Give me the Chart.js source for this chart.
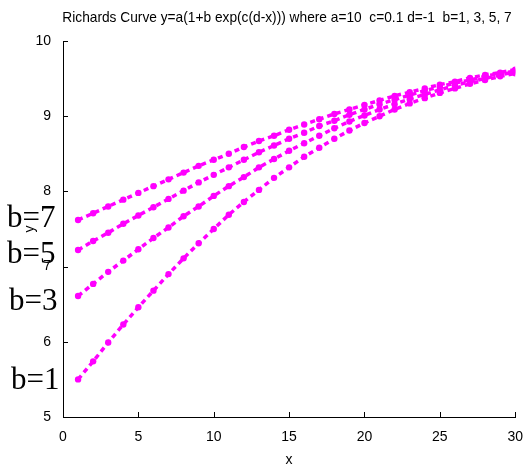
<!DOCTYPE html>
<html>
<head>
<meta charset="utf-8">
<script src="https://cdn.jsdelivr.net/npm/chart.js@4"></script>
<style>
  html, body { margin: 0; padding: 0; background: #fff; }
  #wrap { width: 527px; height: 470px; }
</style>
</head>
<body>
<div id="wrap"><canvas id="chart"></canvas></div>
<script>
const xs = [1,2,3,4,5,6,7,8,9,10,11,12,13,14,15,16,17,18,19,20,21,22,23,24,25,26,27,28,29,30];
const yB1 = [5.50,5.74,5.99,6.23,6.46,6.68,6.90,7.11,7.31,7.50,7.69,7.86,8.02,8.18,8.32,8.46,8.58,8.70,8.81,8.91,9.00,9.09,9.17,9.24,9.31,9.37,9.43,9.48,9.53,9.57];
const yB3 = [6.61,6.77,6.93,7.08,7.23,7.38,7.52,7.67,7.80,7.94,8.07,8.19,8.32,8.43,8.54,8.64,8.74,8.84,8.93,9.01,9.09,9.16,9.23,9.29,9.35,9.41,9.46,9.50,9.55,9.59];
const yB5 = [7.22,7.34,7.45,7.57,7.68,7.79,7.90,8.01,8.12,8.22,8.32,8.42,8.52,8.61,8.70,8.78,8.87,8.94,9.02,9.09,9.16,9.22,9.28,9.34,9.39,9.44,9.48,9.53,9.57,9.60];
const yB7 = [7.62,7.71,7.80,7.89,7.98,8.07,8.16,8.25,8.34,8.42,8.50,8.59,8.67,8.74,8.82,8.89,8.96,9.03,9.09,9.15,9.21,9.27,9.32,9.37,9.42,9.46,9.51,9.55,9.58,9.62];
const seriesLabels = ["b=1", "b=3", "b=5", "b=7"];
const xTicks = [0,5,10,15,20,25,30];
const yTicks = [5,6,7,8,9,10];
const titleText = "Richards Curve y=a(1+b exp(c(d-x))) where a=10  c=0.1 d=-1  b=1, 3, 5, 7";

const MAGENTA = "#ff00ff";
const sans = "'Liberation Sans', Arial, sans-serif";

function series(label, ys) {
  return {
    label: label,
    data: xs.map((x, i) => ({ x: x, y: ys[i] })),
    borderColor: MAGENTA,
    backgroundColor: MAGENTA,
    borderWidth: 3.5,
    borderDash: [5, 4],
    pointRadius: 3.2,
    pointHoverRadius: 3.2,
    pointBorderWidth: 0,
    tension: 0,
  };
}

// inward ticks, title text and the b= annotations
const extras = {
  id: "extras",
  afterDraw(chart) {
    const ctx = chart.ctx;
    const sx = chart.scales.x, sy = chart.scales.y;
    const area = chart.chartArea;
    ctx.save();
    ctx.strokeStyle = "#000";
    ctx.lineWidth = 1;
    ctx.beginPath();
    xTicks.forEach(v => {
      const px = Math.round(sx.getPixelForValue(v)) + 0.5;
      ctx.moveTo(px, area.bottom);
      ctx.lineTo(px, area.bottom - 5);
    });
    yTicks.forEach(v => {
      const py = Math.round(sy.getPixelForValue(v)) + 0.5;
      ctx.moveTo(area.left, py);
      ctx.lineTo(area.left + 5, py);
    });
    ctx.stroke();

    // condensed title (narrow face is not installed, so squeeze it)
    ctx.fillStyle = "#000";
    ctx.font = "15px " + sans;
    ctx.textAlign = "center";
    ctx.textBaseline = "middle";
    ctx.save();
    ctx.translate(287, 18);
    ctx.scale(0.915, 1);
    ctx.fillText(titleText, 0, 0);
    ctx.restore();

    ctx.font = "31px 'Liberation Serif', 'Times New Roman', serif";
    ctx.textAlign = "left";
    ctx.textBaseline = "alphabetic";
    const spots = { "b=7": [7, 227], "b=5": [7, 263], "b=3": [9, 310], "b=1": [11, 389] };
    seriesLabels.forEach(l => ctx.fillText(l, spots[l][0], spots[l][1]));
    ctx.restore();
  }
};

new Chart(document.getElementById("chart"), {
  type: "line",
  data: { datasets: [series(seriesLabels[0], yB1), series(seriesLabels[1], yB3), series(seriesLabels[2], yB5), series(seriesLabels[3], yB7)] },
  options: {
    responsive: true,
    maintainAspectRatio: false,
    animation: false,
    layout: { padding: { top: 41, right: 10, left: 0, bottom: 0 } },
    plugins: { legend: { display: false }, tooltip: { enabled: false }, title: { display: false } },
    scales: {
      x: {
        type: "linear",
        min: 0, max: 30,
        afterFit: s => { s.height = 53; },
        afterBuildTicks: s => { s.ticks = xTicks.map(v => ({ value: v })); },
        grid: { display: false },
        border: { display: true, color: "#000", width: 1 },
        ticks: { color: "#000", font: { size: 14, family: sans }, padding: 4, maxRotation: 0 },
        title: { display: true, text: "x", color: "#000", font: { size: 14, family: sans }, padding: { top: 0, bottom: 1 } }
      },
      y: {
        type: "linear",
        min: 5, max: 10,
        afterFit: s => { s.width = 63; },
        afterBuildTicks: s => { s.ticks = yTicks.map(v => ({ value: v })); },
        grid: { display: false },
        border: { display: true, color: "#000", width: 1 },
        ticks: { color: "#000", font: { size: 14, family: sans }, padding: 4 },
        title: { display: true, text: "y", color: "#000", font: { size: 14, family: sans }, padding: { top: 22, bottom: 0 }, align: "center" }
      }
    }
  },
  plugins: [extras]
});
</script>
</body>
</html>
